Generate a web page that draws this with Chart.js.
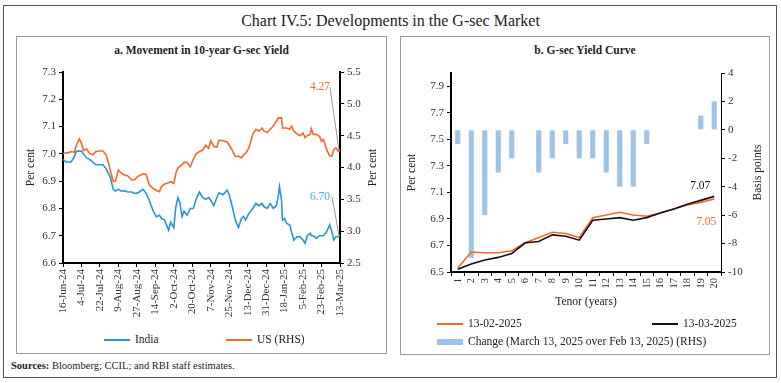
<!DOCTYPE html>
<html>
<head>
<meta charset="utf-8">
<script src="https://cdn.jsdelivr.net/npm/chart.js@4.4.1/dist/chart.umd.min.js"></script>
<style>
body { margin:0; width:781px; height:383px; background:#fff; position:relative; overflow:hidden;
       font-family:"Liberation Serif", serif; color:#222; }
.abs { position:absolute; }
#frame { left:3px; top:5px; width:772px; height:371px; border:1px solid #555; }
#title { left:0; width:781px; top:12px; text-align:center; font-size:16px; }
.panel { border:1px solid #999; }
.ptitle { font-weight:bold; font-size:11.5px; text-align:center; }
.leg { font-size:11.5px; white-space:nowrap; line-height:14px; }
.ln { display:inline-block; width:26px; height:2px; vertical-align:middle; margin-right:5px; }
.bx { display:inline-block; width:26px; height:6px; vertical-align:middle; margin-right:5px; }
#src { left:11px; top:360px; font-size:10.5px; }
</style>
</head>
<body>
<div class="abs" id="frame"></div>
<div class="abs" id="title">Chart IV.5: Developments in the G-sec Market</div>

<div class="abs panel" style="left:16px;top:36px;width:369px;height:316px"></div>
<div class="abs panel" style="left:400px;top:36px;width:368px;height:317px"></div>

<div class="abs ptitle" style="left:16px;width:371px;top:44px">a. Movement in 10-year G-sec Yield</div>
<div class="abs ptitle" style="left:400px;width:370px;top:44px">b. G-sec Yield Curve</div>

<canvas id="yieldChart" class="abs" style="left:17px;top:60px" width="368" height="260"></canvas>
<canvas id="curveChart" class="abs" style="left:401px;top:60px" width="367" height="252"></canvas>

<div class="abs leg" style="left:104px;top:332px"><span class="ln" style="background:#2B95D1"></span>India</div>
<div class="abs leg" style="left:226px;top:332px"><span class="ln" style="background:#F26A2E"></span>US (RHS)</div>

<div class="abs leg" style="left:437px;top:316px"><span class="ln" style="background:#F26A2E"></span>13-02-2025</div>
<div class="abs leg" style="left:652px;top:316px"><span class="ln" style="background:#111"></span>13-03-2025</div>
<div class="abs leg" style="left:437px;top:334px"><span class="bx" style="background:#9DC3E6"></span>Change (March 13, 2025 over Feb 13, 2025) (RHS)</div>

<div class="abs" id="src"><b>Sources:</b> Bloomberg; CCIL; and RBI staff estimates.</div>

<script>
// panel a: 10-year yields
const dates = [
  '2024-06-16','2024-06-19','2024-06-21','2024-06-24','2024-06-27','2024-06-29','2024-07-02','2024-07-04',
  '2024-07-06','2024-07-09','2024-07-12','2024-07-15','2024-07-18','2024-07-22','2024-07-25','2024-07-28',
  '2024-07-30','2024-08-01','2024-08-04','2024-08-06','2024-08-09','2024-08-12','2024-08-15','2024-08-18',
  '2024-08-22','2024-08-25','2024-08-28','2024-09-02','2024-09-05','2024-09-08','2024-09-12','2024-09-15',
  '2024-09-18','2024-09-20','2024-09-23','2024-09-27','2024-09-29','2024-10-02','2024-10-04','2024-10-06',
  '2024-10-08','2024-10-10','2024-10-12','2024-10-15','2024-10-18','2024-10-21','2024-10-24','2024-10-27',
  '2024-10-30','2024-11-02','2024-11-05','2024-11-07','2024-11-10','2024-11-13','2024-11-15','2024-11-19',
  '2024-11-23','2024-11-25','2024-11-28','2024-12-01','2024-12-04','2024-12-07','2024-12-09','2024-12-11',
  '2024-12-14','2024-12-16','2024-12-18','2024-12-21','2024-12-24','2024-12-27','2024-12-29','2025-01-01',
  '2025-01-04','2025-01-07','2025-01-10','2025-01-12','2025-01-13','2025-01-15','2025-01-16','2025-01-18',
  '2025-01-20','2025-01-23','2025-01-25','2025-01-27','2025-01-30','2025-02-02','2025-02-05','2025-02-07',
  '2025-02-09','2025-02-12','2025-02-13','2025-02-15','2025-02-18','2025-02-21','2025-02-23','2025-02-25',
  '2025-02-28','2025-03-03','2025-03-05','2025-03-07','2025-03-09','2025-03-11','2025-03-13'
];
const india = [
  6.98,6.97,6.97,6.97,6.99,7.01,7.01,7.01,
  7.00,6.985,6.98,6.97,6.96,6.96,6.96,6.945,
  6.93,6.915,6.87,6.864,6.87,6.863,6.865,6.86,
  6.86,6.855,6.857,6.87,6.856,6.83,6.79,6.77,
  6.775,6.763,6.757,6.72,6.75,6.73,6.806,6.84,
  6.82,6.77,6.79,6.775,6.80,6.80,6.836,6.86,
  6.84,6.833,6.84,6.83,6.81,6.84,6.857,6.85,
  6.867,6.85,6.806,6.757,6.73,6.763,6.77,6.757,
  6.78,6.79,6.80,6.818,6.81,6.818,6.806,6.80,
  6.818,6.80,6.81,6.85,6.88,6.83,6.757,6.763,
  6.745,6.74,6.71,6.684,6.696,6.696,6.684,6.672,
  6.70,6.709,6.70,6.70,6.69,6.70,6.70,6.70,
  6.715,6.74,6.715,6.684,6.696,6.696,6.70
];
const us = [
  4.22,4.23,4.23,4.25,4.24,4.35,4.45,4.38,
  4.27,4.29,4.22,4.20,4.25,4.26,4.26,4.20,
  4.09,3.96,3.78,3.78,3.96,3.91,3.88,3.87,
  3.80,3.81,3.86,3.90,3.89,3.73,3.67,3.64,
  3.62,3.70,3.74,3.76,3.78,3.75,3.91,3.99,
  4.02,4.04,4.08,4.08,4.01,4.13,4.22,4.25,
  4.27,4.35,4.30,4.42,4.33,4.32,4.43,4.42,
  4.40,4.35,4.27,4.17,4.18,4.15,4.20,4.22,
  4.30,4.41,4.52,4.60,4.57,4.62,4.57,4.55,
  4.60,4.65,4.73,4.78,4.78,4.78,4.62,4.62,
  4.62,4.60,4.65,4.57,4.53,4.50,4.54,4.47,
  4.50,4.52,4.61,4.52,4.52,4.49,4.41,4.44,
  4.28,4.18,4.18,4.28,4.31,4.26,4.27
];
const xTickDates = ['2024-06-16','2024-07-04','2024-07-22','2024-08-09','2024-08-27','2024-09-14',
  '2024-10-02','2024-10-20','2024-11-07','2024-11-25','2024-12-13','2024-12-31','2025-01-18',
  '2025-02-05','2025-02-23','2025-03-13'];

// panel b: yield curve
const tenors = ['1','2','3','4','5','6','7','8','9','10','11','12','13','14','15','16','17','18','19','20'];
const feb13 = [6.53,6.65,6.645,6.645,6.66,6.72,6.76,6.80,6.79,6.76,6.91,6.93,6.95,6.93,6.92,6.945,6.975,7.005,7.025,7.05];
const mar13 = [6.52,6.56,6.59,6.61,6.64,6.72,6.73,6.78,6.77,6.74,6.89,6.90,6.91,6.89,6.91,6.945,6.975,7.01,7.04,7.07];
const change = [-1,-9,-6,-3,-2,0,-3,-2,-1,-2,-2,-3,-4,-4,-1,0,0,0,1,2];
const yieldTicks = [6.5,6.7,6.9,7.1,7.3,7.5,7.7,7.9];

const BLUE = '#2B95D1', ORANGE = '#F26A2E';
const months = ['Jan','Feb','Mar','Apr','May','Jun','Jul','Aug','Sep','Oct','Nov','Dec'];
const start = Date.parse(dates[0]);
const dayOf = s => Math.round((Date.parse(s) - start) / 86400000);
const dayLabel = d => {
  const t = new Date(start + d * 86400000);
  return t.getUTCDate() + '-' + months[t.getUTCMonth()] + '-' + String(t.getUTCFullYear()).slice(2);
};

Chart.defaults.font.family = '"Liberation Serif", serif';
Chart.defaults.font.size = 11;
Chart.defaults.color = '#333';

const axisGrid = { display: true, drawOnChartArea: false, drawTicks: true, tickLength: 4, color: '#000' };
const axisBorder = { display: true, color: '#000', width: 2 };

// labels at the last point of a line, with optional leader line
const endLabels = {
  id: 'endLabels',
  afterDatasetsDraw(chart, args, opts) {
    const ctx = chart.ctx;
    (opts.items || []).forEach(it => {
      const meta = chart.getDatasetMeta(it.dataset);
      const pt = meta.data[meta.data.length - 1];
      const vals = chart.data.datasets[it.dataset].data;
      const last = vals[vals.length - 1];
      const text = (typeof last === 'object' ? last.y : last).toFixed(2);
      const tx = pt.x + it.dx, ty = pt.y + it.dy;
      ctx.save();
      if (it.leader) {
        ctx.strokeStyle = '#999';
        ctx.lineWidth = 1;
        ctx.beginPath();
        ctx.moveTo(tx + it.leader, ty);
        ctx.lineTo(pt.x - 1, pt.y);
        ctx.stroke();
      }
      ctx.fillStyle = it.color;
      ctx.font = '11.5px "Liberation Serif", serif';
      ctx.textAlign = 'center';
      ctx.textBaseline = 'middle';
      ctx.fillText(text, tx, ty);
      ctx.restore();
    });
  }
};

// right-hand axis titles reading bottom to top
const rhsTitle = {
  id: 'rhsTitle',
  afterDraw(chart, args, opts) {
    const s = chart.scales[opts.scale];
    const ctx = chart.ctx;
    ctx.save();
    ctx.translate(s.right - opts.inset, (chart.chartArea.top + chart.chartArea.bottom) / 2);
    ctx.rotate(-Math.PI / 2);
    ctx.fillStyle = '#222';
    ctx.font = '11.5px "Liberation Serif", serif';
    ctx.textAlign = 'center';
    ctx.textBaseline = 'middle';
    ctx.fillText(opts.text, 0, 0);
    ctx.restore();
  }
};

new Chart(document.getElementById('yieldChart'), {
  type: 'line',
  data: {
    datasets: [
      { label: 'India', data: dates.map((d, i) => ({ x: dayOf(d), y: india[i] })), yAxisID: 'y',
        borderColor: BLUE, borderWidth: 1.6, pointRadius: 0 },
      { label: 'US (RHS)', data: dates.map((d, i) => ({ x: dayOf(d), y: us[i] })), yAxisID: 'y1',
        borderColor: ORANGE, borderWidth: 1.6, pointRadius: 0 }
    ]
  },
  options: {
    responsive: false,
    animation: false,
    layout: { padding: { top: 12, left: 0, right: 0, bottom: 0 } },
    plugins: {
      legend: { display: false },
      tooltip: { enabled: false },
      endLabels: { items: [
        { dataset: 1, dx: -20, dy: -63, color: ORANGE, leader: 10 },
        { dataset: 0, dx: -20, dy: -39, color: '#4AADE0', leader: 12 }
      ] },
      rhsTitle: { scale: 'y1', text: 'Per cent', inset: 12 }
    },
    scales: {
      x: {
        type: 'linear', min: 0, max: dayOf(dates[dates.length - 1]),
        afterBuildTicks: s => { s.ticks = xTickDates.map(d => ({ value: dayOf(d) })); },
        afterFit: s => { s.height = 57; },
        ticks: { autoSkip: false, maxRotation: 90, minRotation: 90, padding: 2, callback: v => dayLabel(v) },
        grid: axisGrid, border: axisBorder
      },
      y: {
        min: 6.6, max: 7.3,
        afterFit: s => { s.width = 46; },
        ticks: { stepSize: 0.1, padding: 3, callback: v => v.toFixed(1) },
        title: { display: true, text: 'Per cent', font: { size: 11.5 }, color: '#222', padding: { top: 7, bottom: 0 } },
        grid: axisGrid, border: axisBorder
      },
      y1: {
        position: 'right', min: 2.5, max: 5.5,
        afterFit: s => { s.width = 45; },
        ticks: { stepSize: 0.5, padding: 3, callback: v => v.toFixed(1) },
        grid: axisGrid, border: axisBorder
      }
    }
  },
  plugins: [endLabels, rhsTitle]
});

new Chart(document.getElementById('curveChart'), {
  data: {
    labels: tenors,
    datasets: [
      { type: 'line', label: '13-02-2025', data: feb13, yAxisID: 'y', order: 1,
        borderColor: ORANGE, borderWidth: 1.6, pointRadius: 0 },
      { type: 'line', label: '13-03-2025', data: mar13, yAxisID: 'y', order: 0,
        borderColor: '#111', borderWidth: 1.6, pointRadius: 0 },
      { type: 'bar', label: 'Change (March 13, 2025 over Feb 13, 2025) (RHS)', data: change, yAxisID: 'y1', order: 2,
        backgroundColor: '#9DC3E6', barPercentage: 0.38, categoryPercentage: 1 }
    ]
  },
  options: {
    responsive: false,
    animation: false,
    layout: { padding: { top: 13, left: 0, right: 0, bottom: 0 } },
    plugins: {
      legend: { display: false },
      tooltip: { enabled: false },
      endLabels: { items: [
        { dataset: 1, dx: -14, dy: -10, color: '#111' },
        { dataset: 0, dx: -8, dy: 23, color: ORANGE }
      ] },
      rhsTitle: { scale: 'y1', text: 'Basis points', inset: 10 }
    },
    scales: {
      x: {
        offset: true,
        afterFit: s => { s.height = 40; },
        ticks: { autoSkip: false, maxRotation: 90, minRotation: 90, padding: 2, font: { size: 10.5 } },
        title: { display: true, text: 'Tenor (years)', font: { size: 11.5 }, color: '#222', padding: { top: 2, bottom: 3 } },
        grid: axisGrid, border: axisBorder
      },
      y: {
        min: 6.5, max: 8.0,
        afterBuildTicks: s => { s.ticks = yieldTicks.map(v => ({ value: v })); },
        afterFit: s => { s.width = 50; },
        ticks: { padding: 3, callback: v => v.toFixed(1) },
        title: { display: true, text: 'Per cent', font: { size: 11.5 }, color: '#222', padding: { top: 4, bottom: 0 } },
        grid: axisGrid, border: axisBorder
      },
      y1: {
        position: 'right', min: -10, max: 4,
        afterFit: s => { s.width = 47; },
        ticks: { stepSize: 2, padding: 3 },
        grid: axisGrid, border: { display: true, color: '#000', width: 1 }
      }
    }
  },
  plugins: [endLabels, rhsTitle]
});
</script>
</body>
</html>
